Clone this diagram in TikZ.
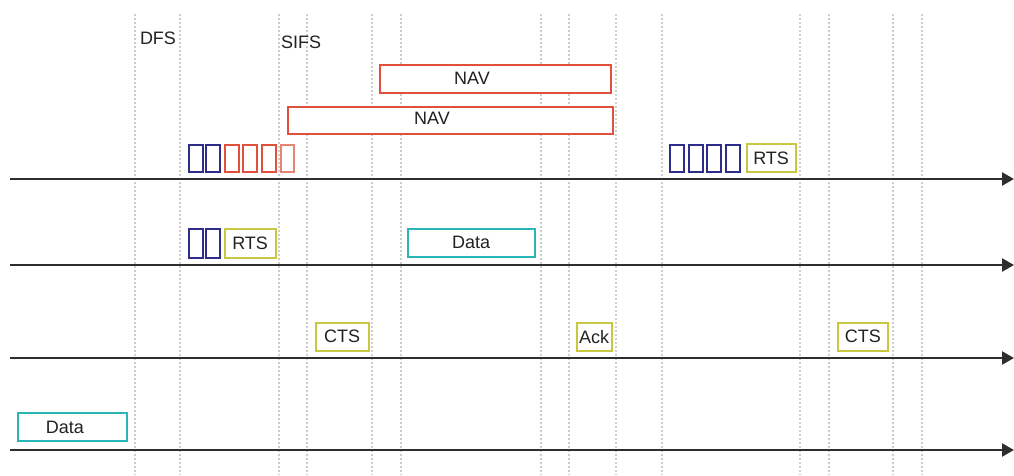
\documentclass[tikz,border=0pt]{standalone}
\usepackage{fontspec}
\setmainfont{Liberation Sans}
\usetikzlibrary{arrows.meta}
\definecolor{fblue}{HTML}{2E2E8A}
\definecolor{fred}{HTML}{E0503C}
\definecolor{fredl}{HTML}{E68474}
\definecolor{fyel}{HTML}{C8C840}
\definecolor{fcyan}{HTML}{2AB6B6}
\definecolor{ftxt}{HTML}{222222}
\definecolor{fgrid}{HTML}{CDCDCD}
\definecolor{faxis}{HTML}{2E2E2E}
\tikzset{
  grid line/.style={draw=fgrid, line width=1.3pt, dash pattern=on 2pt off 2pt},
  axis line/.style={draw=faxis, line width=2.4pt, -{Triangle[length=12pt,width=13pt]}},
  box/.style={draw, line width=2.2pt, inner sep=0pt, anchor=north west, text=ftxt, font=\lbl},
  lbl text/.style={text=ftxt, font=\lbl, inner sep=0pt},
}
\newcommand{\lbl}{\fontsize{18}{20}\selectfont}
\begin{document}
\begin{tikzpicture}[x=1pt,y=-1pt]
\useasboundingbox (0,0) rectangle (1014,475);
\fill[white] (0,0) rectangle (1014,475);
% vertical dotted time marks
\foreach \x [count=\i] in {135,180,279,307,372,401,541,569,616,662,800,829,893,922} {
  \coordinate (vt\i) at (\x,14);
  \coordinate (vb\i) at (\x,475);
  \draw[grid line] (vt\i) -- (vb\i);
}
% station time axes
\foreach \y [count=\i] in {179,265,358,450} {
  \coordinate (as\i) at (10,\y);
  \coordinate (ae\i) at (1014,\y);
  \draw[axis line] (as\i) -- (ae\i);
}
% top labels
\node[lbl text] (dfs) at (158,38) {DFS};
\node[lbl text] (sifs) at (301,42) {SIFS};
% NAV boxes
\node[box, draw=fred, fill=white, minimum width=231pt, minimum height=28pt] (nav1) at (378.5,64) {};
\node[lbl text] (nav1t) at (472,78) {NAV};
\node[box, draw=fred, fill=white, minimum width=325.5pt, minimum height=27pt] (nav2) at (286.5,105.5) {};
\node[lbl text] (nav2t) at (432,118.5) {NAV};
% row 1 slots
\node[box, draw=fblue, minimum width=14pt, minimum height=27pt] (r1b1) at (187.5,143.5) {};
\node[box, draw=fblue, minimum width=14pt, minimum height=27pt] (r1b2) at (205,143.5) {};
\node[box, draw=fred, minimum width=14pt, minimum height=27pt] (r1r1) at (223.5,143.5) {};
\node[box, draw=fred, minimum width=14pt, minimum height=27pt] (r1r2) at (242,143.5) {};
\node[box, draw=fred, minimum width=14pt, minimum height=27pt] (r1r3) at (260.5,143.5) {};
\node[box, draw=fredl, minimum width=13.5pt, minimum height=27pt] (r1r4) at (279.5,143.5) {};
\node[box, draw=fblue, minimum width=14pt, minimum height=27pt] (r1b3) at (668.5,143.5) {};
\node[box, draw=fblue, minimum width=14pt, minimum height=27pt] (r1b4) at (687.5,143.5) {};
\node[box, draw=fblue, minimum width=14pt, minimum height=27pt] (r1b5) at (706,143.5) {};
\node[box, draw=fblue, minimum width=14pt, minimum height=27pt] (r1b6) at (724.5,143.5) {};
\node[box, draw=fyel, minimum width=49pt, minimum height=27.5pt] (rts1) at (745.5,143) {RTS};
% row 2
\node[box, draw=fblue, minimum width=14pt, minimum height=28.5pt] (r2b1) at (187.5,228) {};
\node[box, draw=fblue, minimum width=14pt, minimum height=28.5pt] (r2b2) at (205,228) {};
\node[box, draw=fyel, minimum width=51pt, minimum height=28.5pt] (rts2) at (223.5,228) {RTS};
\node[box, draw=fcyan, minimum width=127pt, minimum height=28.5pt] (data1) at (406.5,227.5) {Data};
% row 3
\node[box, draw=fyel, minimum width=53pt, minimum height=28pt] (cts1) at (314.5,321.5) {CTS};
\node[box, draw=fyel, minimum width=35pt, minimum height=28pt] (ack) at (575.5,321.5) {Ack};
\node[box, draw=fyel, minimum width=50.5pt, minimum height=28pt] (cts2) at (836.5,321.5) {CTS};
% row 4
\node[box, draw=fcyan, minimum width=109pt, minimum height=28.5pt] (data2) at (17,411.5) {};
\node[lbl text] (data2t) at (65,427.5) {Data};
\end{tikzpicture}
\end{document}
